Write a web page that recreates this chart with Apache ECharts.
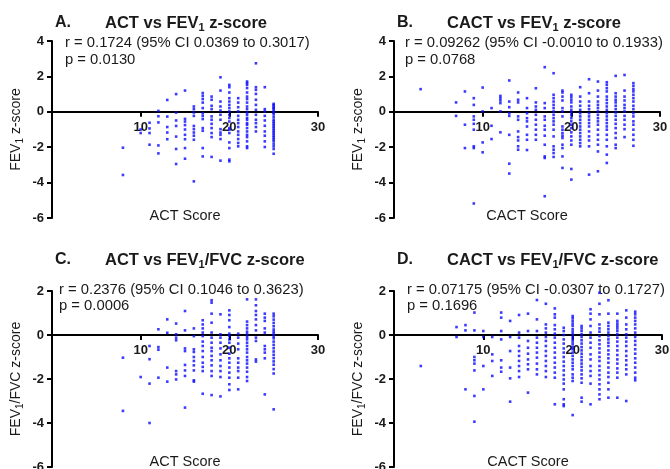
<!DOCTYPE html>
<html><head><meta charset="utf-8">
<script src="https://cdn.jsdelivr.net/npm/echarts@6/dist/echarts.min.js"></script>
<style>html,body{margin:0;padding:0;background:#fff}#c{width:670px;height:469px}</style>
</head><body><div id="c"></div>
<script>
// ---- Data ----
const actScores = [8,10,11,12,13,14,15,16,17,18,19,20,21,22,23,24,25];
const cactScores = [3,7,8,9,10,11,12,13,14,15,16,17,18,19,20,21,22,23,24,25,26,27];

// Panel A: ACT vs FEV1 z-score (one list of z-scores per ACT score)
const actFev1 = [
  [-2.03,-3.57],
  [-1.0,-1.2],
  [-0.62,-0.94,-1.2,-1.86],
  [0.05,-0.25,-0.6,-1.9,-2.35],
  [0.67,-0.27,-0.86,-1.17,-1.55],
  [1.0,-0.04,-0.49,-0.8,-1.4,-2.1,-2.95],
  [1.2,-0.4,-0.55,-0.75,-1.0,-1.3,-1.55,-2.05,-2.65],
  [0.3,0.15,-0.04,-0.23,-0.8,-0.98,-1.17,-1.35,-1.58,-3.93],
  [1.06,0.9,0.72,0.52,0.21,-0.08,-0.23,-0.41,-0.92,-1.07,-2.05,-2.52],
  [0.86,0.68,0.34,0.15,-0.26,-0.45,-0.68,-0.92,-1.2,-1.43,-2.55],
  [1.95,1.2,0.58,0.3,0.07,-0.17,-0.45,-0.98,-1.17,-1.3,-1.54,-2.76],
  [1.52,1.39,1.09,0.77,0.58,0.39,0.21,0.02,-0.17,-0.35,-0.55,-0.92,-1.01,-1.2,-1.73,-2.05,-2.7,-2.8],
  [0.77,0.52,0.26,0.02,-0.23,-0.45,-0.64,-0.86,-1.11,-1.3,-1.54,-1.76,-1.95],
  [1.71,1.62,1.52,1.34,1.09,0.86,0.72,0.52,0.3,0.15,-0.04,-0.17,-0.35,-0.45,-0.64,-0.73,-0.92,-1.11,-1.3,-1.43,-1.67,-1.95,-2.05],
  [2.74,1.39,1.24,1.01,0.68,0.39,0.11,-0.17,-0.45,-0.64,-0.86,-1.11],
  [1.39,0.15,0.02,-0.23,-0.49,-0.79,-1.11,-1.35,-1.67,-1.99],
  [0.45,0.38,0.3,0.22,0.15,0.05,-0.05,-0.15,-0.3,-0.45,-0.55,-0.65,-0.75,-0.85,-0.95,-1.05,-1.15,-1.25,-1.35,-1.45,-1.55,-1.65,-1.8,-1.95,-2.1,-2.37]
];

// Panel B: CACT vs FEV1 z-score
const cactFev1 = [
  [1.28],
  [0.53,-0.23],
  [1.15,-0.73,-2.05],
  [0.77,0.39,-0.26,-0.45,-0.68,-1.01,-1.95,-2.05,-5.18],
  [1.37,0.02,-1.73,-2.29],
  [0.21,-0.79,-1.54],
  [0.9,0.77,0.64,0.49,0.02,-1.16],
  [1.77,0.58,0.26,-0.08,-0.23,-1.3,-2.93,-3.49],
  [1.09,0.68,0.53,-0.26,-0.45,-1.11,-1.43,-1.62,-1.95,-2.14],
  [0.77,0.21,-0.08,-0.36,-0.54,-0.83,-1.3,-1.58,-2.16],
  [1.33,0.53,0.3,0.11,-0.17,-0.45,-0.73,-1.01,-1.3,-1.58],
  [2.52,0.49,0.21,-0.26,-0.45,-0.79,-1.01,-1.35,-1.86,-2.52,-2.61,-4.77],
  [2.18,0.96,0.77,0.58,0.39,0.21,0.02,-0.17,-0.36,-0.54,-0.73,-1.01,-1.39,-1.95,-2.14,-2.33,-2.55],
  [1.2,1.09,0.86,0.64,0.21,0.02,-0.26,-0.83,-1.01,-1.2,-1.35,-1.48,-1.86,-2.05,-2.52,-3.17],
  [0.96,0.83,0.68,0.53,0.3,0.11,-0.04,-0.19,-0.36,-0.54,-0.73,-0.92,-1.16,-1.39,-1.62,-1.86,-3.23,-3.83],
  [1.39,0.86,0.58,0.34,0.11,-0.08,-0.26,-0.45,-0.64,-0.83,-1.01,-1.2,-1.39,-1.58,-1.77,-1.95],
  [1.84,1.05,0.58,0.34,0.15,-0.08,-0.26,-0.45,-0.64,-0.83,-1.11,-1.39,-1.62,-1.95,-3.55],
  [1.71,1.2,0.86,0.58,0.39,0.21,0.02,-0.17,-0.36,-0.54,-0.73,-1.01,-1.3,-1.58,-1.86,-2.24,-3.36],
  [1.67,1.52,1.33,1.15,0.86,0.68,0.49,0.3,0.11,-0.08,-0.26,-0.45,-0.64,-0.83,-1.01,-1.3,-1.58,-1.95,-2.42,-2.89],
  [2.03,1.05,0.86,0.68,0.53,0.34,0.15,-0.04,-0.23,-0.45,-0.68,-0.92,-1.2,-1.48,-1.86,-2.05],
  [2.08,1.2,0.86,0.64,0.39,0.21,0.02,-0.23,-0.45,-0.73,-0.98,-1.43],
  [1.62,1.46,1.28,1.15,0.96,0.77,0.58,0.34,0.15,-0.08,-0.26,-0.54,-0.73,-1.01,-1.3,-1.58,-1.92]
];

// Panel C: ACT vs FEV1/FVC z-score
const actRatio = [
  [-1.03,-3.45],
  [-1.91],
  [-0.5,-1.1,-2.21,-4.0],
  [0.26,-0.55,-0.67,-1.94],
  [0.71,0.1,-1.48,-2.12],
  [0.52,0.03,-0.12,-0.24,-1.64,-1.79,-2.02],
  [1.09,0.21,-0.61,-0.73,-1.36,-1.61,-1.86,-3.3],
  [0.3,-0.05,-0.65,-0.77,-1.0,-1.18,-1.38,-1.61,-2.06,-2.12],
  [0.67,0.48,0.3,0.11,-0.05,-0.3,-0.5,-0.73,-1.0,-1.26,-1.45,-1.64,-2.67],
  [1.58,1.47,0.97,0.56,0.11,-0.12,-0.35,-0.58,-0.73,-0.95,-1.15,-1.38,-1.64,-1.86,-2.73],
  [0.94,0.03,-0.12,-0.35,-0.61,-0.88,-1.15,-1.41,-1.64,-1.91,-2.79],
  [1.12,0.91,0.67,0.36,0.06,-0.05,-0.2,-0.35,-0.58,-0.85,-1.06,-1.26,-1.48,-1.71,-1.94,-2.24,-2.5],
  [0.06,-0.12,-0.39,-0.65,-1.06,-1.26,-1.48,-1.64,-1.94,-2.47],
  [1.62,0.61,0.45,0.3,0.15,0.03,-0.09,-0.2,-0.35,-0.5,-0.65,-0.8,-1.0,-1.15,-1.3,-1.48,-1.67,-1.91,-2.09],
  [1.62,1.35,1.09,0.91,0.71,0.45,0.21,-0.12,-0.27,-1.11,-1.21],
  [0.97,0.79,0.64,0.3,0.11,-0.5,-0.65,-0.8,-1.06,-2.7],
  [0.97,0.85,0.7,0.55,0.4,0.25,0.15,0.05,-0.05,-0.15,-0.3,-0.45,-0.6,-0.75,-0.9,-1.05,-1.2,-1.35,-1.55,-1.75,-3.38]
];

// Panel D: CACT vs FEV1/FVC z-score
const cactRatio = [
  [-1.41],
  [0.36,-0.09],
  [0.45,0.21,-2.47],
  [1.02,0.21,-1.0,-1.15,-1.3,-1.61,-2.77,-3.94],
  [0.18,-0.09,-1.41,-2.47],
  [-0.09,-0.88,-1.18,-1.86],
  [1.02,0.79,0.18,-0.2,-1.15,-1.48,-1.67],
  [0.64,-0.09,-0.73,-1.48,-1.97,-3.03],
  [0.91,0.11,-0.12,-0.5,-0.73,-0.95,-1.18,-1.41,-1.64,-1.91],
  [0.97,0.18,-0.27,-0.58,-0.85,-1.11,-1.33,-1.56,-2.62],
  [1.59,0.71,0.18,-0.12,-0.35,-0.58,-0.8,-1.03,-1.3,-1.56,-1.79],
  [1.42,0.48,0.3,0.11,-0.09,-0.27,-0.5,-0.73,-0.95,-1.18,-1.41,-1.64,-1.91],
  [1.21,0.94,0.79,0.45,0.26,0.06,-0.12,-0.35,-0.58,-0.8,-1.03,-1.26,-1.48,-1.71,-1.94,-3.15],
  [0.33,0.18,0,-0.2,-0.39,-0.61,-0.8,-1.0,-1.21,-1.41,-1.61,-1.82,-2.02,-2.21,-2.47,-2.92,-3.15,-3.23],
  [0.86,0.76,0.64,0.52,0.41,0.26,0.15,0.03,-0.09,-0.2,-0.3,-0.42,-0.55,-0.65,-0.8,-0.95,-1.11,-1.26,-1.41,-1.56,-1.79,-1.94,-2.09,-3.64],
  [0.41,0.3,0.18,0.03,-0.09,-0.24,-0.39,-0.55,-0.7,-0.85,-1.0,-1.15,-1.3,-1.45,-1.61,-1.79,-1.97,-2.17,-2.85,-3.03],
  [1.17,0.97,0.71,0.41,0.11,-0.12,-0.35,-0.58,-0.88,-1.11,-1.41,-1.64,-1.86,-2.21,-3.15],
  [1.92,1.42,0.94,0.48,0.3,0.15,-0.05,-0.24,-0.42,-0.61,-0.8,-1.0,-1.18,-1.41,-1.61,-1.82,-2.02,-2.24,-2.47,-2.7,-2.92],
  [1.58,0.97,0.56,0.41,0.26,0.11,-0.05,-0.2,-0.35,-0.5,-0.7,-0.88,-1.06,-1.26,-1.48,-1.71,-1.91,-2.17,-2.47,-2.85],
  [0.97,0.64,0.52,0.41,0.3,0.18,0.03,-0.12,-0.3,-0.5,-0.7,-0.91,-1.11,-1.3,-1.52,-1.71,-1.94,-2.85],
  [1.12,0.79,0.48,0.26,0.03,-0.12,-0.3,-0.5,-0.73,-0.95,-1.15,-1.36,-1.56,-1.79,-3.0],
  [1.06,0.94,0.79,0.64,0.48,0.3,0.11,-0.09,-0.27,-0.45,-0.65,-0.85,-1.06,-1.26,-1.48,-1.71,-1.94,-2.06]
];

const panelLetters = ['A.','B.','C.','D.'];
const panelTitles = [
  ['ACT vs FEV','1',' z-score'],
  ['CACT vs FEV','1',' z-score'],
  ['ACT vs FEV','1','/FVC z-score'],
  ['CACT vs FEV','1','/FVC z-score']
];
const rLines = [
  'r = 0.1724 (95% CI 0.0369 to 0.3017)',
  'r = 0.09262 (95% CI -0.0010 to 0.1933)',
  'r = 0.2376 (95% CI 0.1046 to 0.3623)',
  'r = 0.07175 (95% CI -0.0307 to 0.1727)'
];
const pLines = ['p = 0.0130','p = 0.0768','p = 0.0006','p = 0.1696'];
const xNames = ['ACT Score','CACT Score','ACT Score','CACT Score'];
const yNames = [['FEV','1',' z-score'],['FEV','1',' z-score'],['FEV','1','/FVC z-score'],['FEV','1','/FVC z-score']];
const yMin = -6;
const yMax = [4, 4, 2, 2];

// ---- Build chart ----
const FONT = "'Liberation Sans', Arial, sans-serif";
const TXT = '#1a1a1a';
function points(xs, cols) {
  const out = [];
  xs.forEach((x, i) => cols[i].forEach(v => out.push([x, v])));
  return out;
}
const panelData = [
  points(actScores, actFev1),
  points(cactScores, cactFev1),
  points(actScores, actRatio),
  points(cactScores, cactRatio)
];

// layout (pixels)
const grids = [
  {left: 52, top: 41, width: 266, height: 177},
  {left: 394, top: 41, width: 266, height: 177},
  {left: 52, top: 291, width: 266, height: 176},
  {left: 394, top: 291, width: 268, height: 176}
];
const titleY = [23, 23, 260, 260];
const rY = [43, 43, 290, 290];
const pY = [60, 60, 306, 306];
const rX = [65, 405, 59, 407];
const xNameY = [216, 216, 462, 462];

const chart = echarts.init(document.getElementById('c'), null, {renderer: 'canvas'});

const xAxis = [], yAxis = [], series = [], graphic = [];
for (let i = 0; i < 4; i++) {
  const g = grids[i];
  // distance from grid bottom up to the y = 0 line, so the x axis sits on zero
  const zeroOffset = g.height * (0 - yMin) / (yMax[i] - yMin);
  xAxis.push({
    type: 'value', gridIndex: i, min: 0, max: 30, interval: 10,
    position: 'bottom', offset: -zeroOffset,
    axisLine: {onZero: false, lineStyle: {color: '#000', width: 2}},
    axisTick: {show: true, length: 5, lineStyle: {color: '#000', width: 2}},
    axisLabel: {
      formatter: v => (v === 0 ? '' : String(v)),
      color: TXT, fontWeight: 'bold', fontSize: 13, fontFamily: FONT, margin: 9
    },
    splitLine: {show: false}
  });
  yAxis.push({
    type: 'value', gridIndex: i, min: yMin, max: yMax[i], interval: 2,
    axisLine: {show: true, onZero: false, lineStyle: {color: '#000', width: 2}},
    axisTick: {show: true, length: 5, lineStyle: {color: '#000', width: 2}},
    axisLabel: {color: TXT, fontWeight: 'bold', fontSize: 13, fontFamily: FONT, margin: 8},
    splitLine: {show: false},
    name: '{a|' + yNames[i][0] + '}{s|' + yNames[i][1] + '}{a|' + yNames[i][2] + '}',
    nameLocation: 'middle', nameRotate: 90, nameGap: 27,
    nameTextStyle: {
      rich: {
        a: {fontSize: 14, fontFamily: FONT, color: TXT, lineHeight: 18},
        s: {fontSize: 10, fontFamily: FONT, color: TXT, lineHeight: 9, verticalAlign: 'bottom'}
      }
    }
  });
  series.push({
    type: 'scatter', xAxisIndex: i, yAxisIndex: i,
    data: panelData[i], symbol: 'rect', symbolSize: 2.6,
    itemStyle: {color: '#0a0aff'}, animation: false, z: 3
  });
  const lx = i % 2 === 0 ? 55 : 397;
  graphic.push({
    type: 'text', x: lx, y: titleY[i],
    style: {text: panelLetters[i], font: 'bold 16px ' + FONT, fill: TXT, verticalAlign: 'middle', align: 'left'}
  });
  graphic.push({
    type: 'text', x: lx + 50, y: titleY[i],
    style: {
      text: '{t|' + panelTitles[i][0] + '}{s|' + panelTitles[i][1] + '}{t|' + panelTitles[i][2] + '}',
      verticalAlign: 'middle', align: 'left',
      rich: {
        t: {font: 'bold 16.5px ' + FONT, fill: TXT, lineHeight: 20},
        s: {font: 'bold 11px ' + FONT, fill: TXT, lineHeight: 10, verticalAlign: 'bottom'}
      }
    }
  });
  graphic.push({
    type: 'text', x: rX[i], y: rY[i],
    style: {text: rLines[i], font: '14.8px ' + FONT, fill: TXT, verticalAlign: 'middle', align: 'left'}
  });
  graphic.push({
    type: 'text', x: rX[i], y: pY[i],
    style: {text: pLines[i], font: '14.8px ' + FONT, fill: TXT, verticalAlign: 'middle', align: 'left'}
  });
  graphic.push({
    type: 'text', x: g.left + g.width / 2, y: xNameY[i],
    style: {text: xNames[i], font: '14.5px ' + FONT, fill: TXT, verticalAlign: 'middle', align: 'center'}
  });
}

chart.setOption({
  animation: false,
  backgroundColor: '#fff',
  textStyle: {fontFamily: FONT},
  grid: grids.map(g => Object.assign({containLabel: false, outerBoundsMode: 'none'}, g)),
  xAxis, yAxis, series, graphic
});
</script>
</body></html>
